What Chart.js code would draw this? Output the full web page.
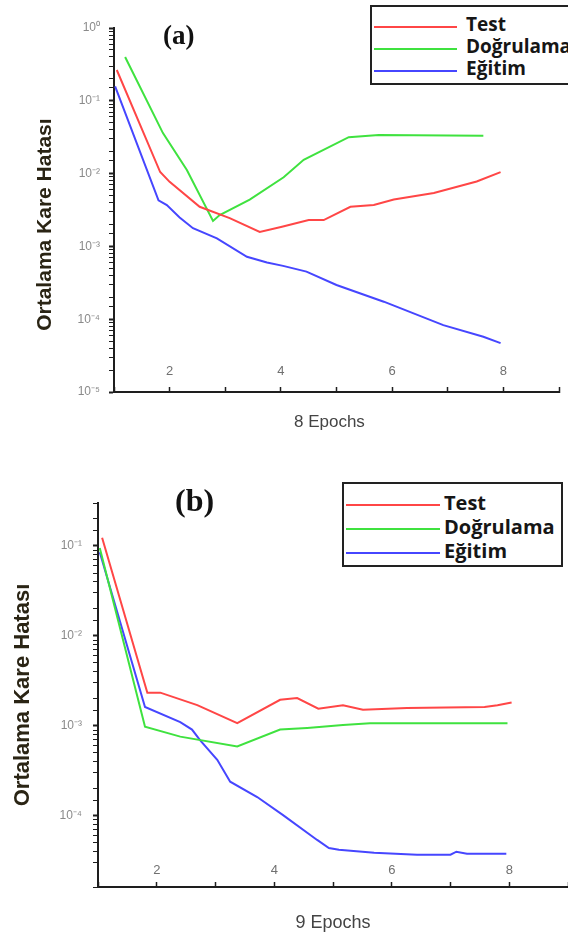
<!DOCTYPE html>
<html lang="tr">
<head>
<meta charset="utf-8">
<script src="https://cdn.jsdelivr.net/npm/chart.js@4.4.1/dist/chart.umd.min.js"></script>
<style>
  html, body { margin: 0; padding: 0; background: #fff; }
  #sayfa { position: relative; width: 568px; height: 936px; overflow: hidden; background: #fff; }
  #grafikA { position: absolute; left: 0; top: 0; }
  #grafikB { position: absolute; left: 0; top: 460px; }
  .etiket { position: absolute; font-family: "Liberation Serif", "DejaVu Serif", serif; font-weight: bold; color: #111; line-height: 1; }
  .lejant { position: absolute; box-sizing: border-box; border: 2px solid #222; background: #fff;
            font-family: "Open Sans", "Noto Sans", sans-serif; font-weight: bold; color: #161616; }
  .satir { display: flex; align-items: center; white-space: nowrap; }
  .cizgi { flex: none; height: 2px; }
</style>
</head>
<body>
<div id="sayfa">
  <canvas id="grafikA" width="568" height="460"></canvas>
  <canvas id="grafikB" width="568" height="476"></canvas>
  <div class="etiket" style="left:163px; top:22px; font-size:27px;">(a)</div>
  <div class="etiket" style="left:175px; top:484px; font-size:32px;">(b)</div>
  <div id="lejantA" class="lejant" style="left:370px; top:5px; width:220px; height:80px; padding:6px 0 0 2px; font-size:19px;"></div>
  <div id="lejantB" class="lejant" style="left:342px; top:482px; width:221px; height:85px; padding:6px 0 0 2px; font-size:20px;"></div>
</div>

<script>
// Seriler: epoch (x) ve ortalama kare hatası (y)

// (a) 8 epoch
const aTestEpok = [1.05, 1.83, 2.0, 2.54, 3.08, 3.62, 4.02, 4.5, 4.77, 5.25, 5.67, 6.03, 6.75, 7.52, 7.95];
const aTestHata = [0.265, 0.0105, 0.0077, 0.0035, 0.00245, 0.00158, 0.00186, 0.0023, 0.0023, 0.0035, 0.0037, 0.0044, 0.0054, 0.0078, 0.0105];
const aDogEpok = [1.2, 1.88, 2.31, 2.78, 2.9, 3.44, 4.05, 4.41, 5.22, 5.76, 7.64];
const aDogHata = [0.4, 0.036, 0.0112, 0.00224, 0.0027, 0.0044, 0.0089, 0.0155, 0.0316, 0.034, 0.033];
const aEgtEpok = [1.02, 1.8, 1.95, 2.18, 2.42, 2.85, 3.39, 3.75, 4.04, 4.46, 5.0, 5.85, 6.92, 7.64, 7.95];
const aEgtHata = [0.158, 0.0043, 0.0037, 0.0025, 0.00178, 0.00129, 0.00072, 0.0006, 0.00054, 0.00045, 0.000295, 0.000174, 0.000083, 0.0000575, 0.000047];

// (b) 9 epoch
const bTestEpok = [1.07, 1.84, 2.06, 2.69, 3.37, 4.1, 4.39, 4.75, 5.17, 5.51, 6.26, 7.58, 7.8, 8.04];
const bTestHata = [0.123, 0.00234, 0.00234, 0.0017, 0.00107, 0.00195, 0.00204, 0.00155, 0.0017, 0.00151, 0.00158, 0.00162, 0.0017, 0.00182];
const bDogEpok = [1.03, 1.8, 2.4, 3.37, 4.1, 4.56, 5.17, 5.63, 7.97];
const bDogHata = [0.095, 0.00098, 0.00076, 0.00059, 0.00091, 0.00095, 0.00102, 0.00107, 0.00107];
const bEgtEpok = [1.03, 1.8, 2.4, 2.6, 2.74, 3.03, 3.25, 3.71, 4.15, 4.73, 4.93, 5.1, 5.7, 6.43, 7.0, 7.1, 7.28, 7.95];
const bEgtHata = [0.085, 0.00162, 0.0011, 0.00091, 0.00069, 0.00042, 0.00024, 0.000162, 0.000102, 0.000054, 0.000044, 0.000042, 0.000039, 0.000037, 0.000037, 0.00004, 0.000038, 0.000038];

const seriAdlari = ['Test', 'Doğrulama', 'Eğitim'];
const seriRenkleri = ['#ff4646', '#3fe23f', '#4646ff'];
const xEtiketleri = [2, 4, 6, 8];
const yEksenBasligi = 'Ortalama Kare Hatası';

Chart.defaults.font.family = '"Liberation Sans", Arial, sans-serif';

const ust = { '-': '⁻', '0': '⁰', '1': '¹', '2': '²', '3': '³', '4': '⁴', '5': '⁵', '6': '⁶', '7': '⁷', '8': '⁸', '9': '⁹' };
function onunKuvveti(v) {
  if (!v) return false;
  const e = Math.log10(v);
  return Math.abs(e - Math.round(e)) < 1e-6;
}
function ustSimge(n) {
  return String(n).split('').map(c => ust[c]).join('');
}

function noktalar(xler, yler) {
  return xler.map((x, i) => ({ x: x, y: yler[i] }));
}

function veriSetleri(seriler) {
  return seriler.map((s, i) => ({
    label: seriAdlari[i],
    data: noktalar(s[0], s[1]),
    borderColor: seriRenkleri[i],
    backgroundColor: seriRenkleri[i],
    borderWidth: 2,
    pointRadius: 0,
    tension: 0
  }));
}

function secenekler(o) {
  return {
    responsive: false,
    animation: false,
    layout: { padding: { left: 0, top: o.ust, right: o.sag, bottom: 0 } },
    plugins: { legend: { display: false }, tooltip: { enabled: false } },
    scales: {
      x: {
        type: 'linear',
        min: 1,
        max: 9,
        afterFit: s => {
          s.height = o.xYukseklik;
          // etiket dolgusu çizim alanını daraltmasın
          s.paddingLeft = 0;
          s.paddingRight = 0;
        },
        border: { color: '#1e1e1e', width: 2 },
        grid: { drawOnChartArea: false, tickLength: -5, tickColor: '#1e1e1e', tickWidth: 1.5 },
        ticks: {
          // mirror: etiketler eksenin üstünde, çizim alanının içinde
          stepSize: 1, autoSkip: false, maxRotation: 0, mirror: true,
          padding: o.xDolgu, color: '#707070', font: { size: 13 },
          callback: v => xEtiketleri.includes(v) ? String(v) : ''
        },
        title: {
          display: true, text: o.xBaslik, color: '#444',
          font: { size: o.xBaslikBoyut }, padding: { top: 0, bottom: o.xBaslikDolgu }
        }
      },
      y: {
        type: 'logarithmic',
        min: o.yMin,
        max: o.yMax,
        afterFit: s => { s.width = o.yGenislik; },
        border: { color: '#1e1e1e', width: 2 },
        grid: {
          drawOnChartArea: false, tickLength: 5, tickColor: '#1e1e1e',
          tickWidth: c => (c.tick && onunKuvveti(c.tick.value)) ? 2 : 1
        },
        ticks: {
          autoSkip: false, padding: o.yDolgu, color: '#8a8a8a', font: { size: 12 },
          callback: v => onunKuvveti(v) ? '10' + ustSimge(Math.round(Math.log10(v))) : ''
        },
        title: {
          display: true, text: o.yBaslik, color: '#2a2414',
          font: { size: o.yBaslikBoyut, weight: 'bold' }, padding: { top: o.yBaslikDolgu, bottom: 0 }
        }
      }
    }
  };
}

function lejantCiz(kutuId, grafik, cizgiBoyu, bosluk, satirBoyu) {
  const kutu = document.getElementById(kutuId);
  grafik.data.datasets.forEach(ds => {
    const satir = document.createElement('div');
    satir.className = 'satir';
    satir.style.height = satirBoyu + 'px';
    const cizgi = document.createElement('span');
    cizgi.className = 'cizgi';
    cizgi.style.width = cizgiBoyu + 'px';
    cizgi.style.background = ds.borderColor;
    cizgi.style.marginRight = bosluk + 'px';
    cizgi.style.marginTop = '5px';
    const yazi = document.createElement('span');
    yazi.textContent = ds.label;
    satir.appendChild(cizgi);
    satir.appendChild(yazi);
    kutu.appendChild(satir);
  });
}

const grafikA = new Chart(document.getElementById('grafikA'), {
  type: 'line',
  data: { datasets: veriSetleri([[aTestEpok, aTestHata], [aDogEpok, aDogHata], [aEgtEpok, aEgtHata]]) },
  options: secenekler({
    ust: 28, sag: 9, xYukseklik: 68, yGenislik: 114,
    xDolgu: 13, xBaslik: '8 Epochs\u00a0\u00a0\u00a0', xBaslikBoyut: 17, xBaslikDolgu: 27,
    yMin: 1e-5, yMax: 1, yDolgu: 9,
    yBaslik: yEksenBasligi + '\u00a0\u00a0\u00a0\u00a0\u00a0', yBaslikBoyut: 21, yBaslikDolgu: 33
  })
});

const grafikB = new Chart(document.getElementById('grafikB'), {
  type: 'line',
  data: { datasets: veriSetleri([[bTestEpok, bTestHata], [bDogEpok, bDogHata], [bEgtEpok, bEgtHata]]) },
  options: secenekler({
    ust: 43, sag: 0, xYukseklik: 49, yGenislik: 98,
    xDolgu: 9, xBaslik: '9 Epochs', xBaslikBoyut: 18, xBaslikDolgu: 2,
    yMin: 1.62e-5, yMax: 0.3, yDolgu: 11,
    yBaslik: yEksenBasligi, yBaslikBoyut: 22, yBaslikDolgu: 10
  })
});

lejantCiz('lejantA', grafikA, 83, 9, 22);
lejantCiz('lejantB', grafikB, 94, 4, 24);
</script>
</body>
</html>
